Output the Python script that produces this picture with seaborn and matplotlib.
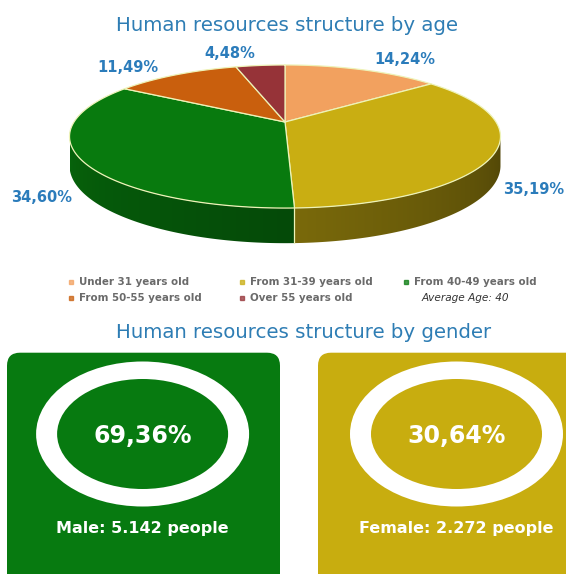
import numpy as np
import matplotlib
matplotlib.use("Agg")
import matplotlib.pyplot as plt
from matplotlib.patches import Polygon, Ellipse, FancyBboxPatch
import seaborn as sns

# ---------------- data ----------------
age_groups = ["Under 31 years old", "From 31-39 years old", "From 40-49 years old",
              "From 50-55 years old", "Over 55 years old"]
age_shares = [14.24, 35.19, 34.60, 11.49, 4.48]
average_age = 40

gender_groups = ["Male", "Female"]
gender_shares = [69.36, 30.64]
gender_people = [5142, 2272]

age_hex = ["#F2A15F", "#C9AE12", "#087A0E", "#C95F0D", "#963338"]
gender_hex = ["#077A10", "#C8AD0F"]

# ---------------- style ----------------
sns.set_theme(style="white")
plt.rcParams["font.family"] = ["DejaVu Sans"]
age_colors = sns.color_palette(age_hex)
gender_colors = sns.color_palette(gender_hex)

TITLE_BLUE = "#2E7DB4"
LABEL_BLUE = "#2B7CBB"
EDGE = "#EEF3B8"
W, HGT = 566, 574

fig = plt.figure(figsize=(W / 100, HGT / 100), dpi=100)
ax = fig.add_axes([0, 0, 1, 1])
ax.axis("off")


def pct(v):
    return f"{v:.2f}".replace(".", ",") + "%"


# ---------------- 3D pie (perspective disc) ----------------
CX, CY = 285.0, 122.0      # projected centre of the top face
R, RK = 211.0, 68.6        # horizontal radius, vertical (tilted) radius
D = 4.93                   # perspective distance
H = 28.0                   # thickness of the disc


def project(theta, r=1.0, drop=0.0):
    theta = np.asarray(theta, dtype=float)
    u = r * np.sin(theta)
    v = r * np.cos(theta)
    s = D / (D + v)
    return CX + R * u * s, CY - RK * v * s + drop * s


total = float(np.sum(age_shares))
bounds = 2 * np.pi * np.concatenate([[0.0], np.cumsum(age_shares)]) / total

th_lo = np.arccos(-1.0 / D)
th_hi = 2 * np.pi - th_lo

# map every screen column of the wall back to its angle, for shading
t_dense = np.linspace(th_lo, th_hi, 2000)
x_dense, _ = project(t_dense)
x_left, x_right = x_dense.min(), x_dense.max()
cols_x = np.linspace(x_left, x_right, 600)
cols_t = np.interp(cols_x, x_dense[::-1], t_dense[::-1])
shade = 0.40 + 0.42 * (cols_t - th_lo) / (th_hi - th_lo)
wall_top = CY - 10
wall_bot = CY + 140

for i, col in enumerate(age_colors):
    a, b = max(bounds[i], th_lo), min(bounds[i + 1], th_hi)
    if b <= a:
        continue
    ts = np.linspace(a, b, 200)
    tx, ty = project(ts)
    bx, by = project(ts[::-1], drop=H)
    poly = Polygon(np.column_stack([np.r_[tx, bx], np.r_[ty, by]]), closed=True,
                   fc="none", ec="none")
    ax.add_patch(poly)
    grad = np.clip(np.array(col)[None, None, :] * shade[None, :, None], 0, 1)
    im = ax.imshow(grad, extent=[x_left, x_right, wall_bot, wall_top],
                   aspect="auto", interpolation="bilinear", zorder=1)
    im.set_clip_path(poly)

# seam lines between neighbouring slices on the wall
for bnd in bounds:
    if th_lo < bnd < th_hi:
        x0, y0 = project(bnd)
        x1, y1 = project(bnd, drop=H)
        ax.plot([x0, x1], [y0, y1], color=EDGE, lw=0.9, zorder=2)

# top faces
for i, col in enumerate(age_colors):
    ts = np.linspace(bounds[i], bounds[i + 1], 200)
    px, py = project(ts)
    pts = np.vstack([[CX, CY], np.column_stack([px, py])])
    ax.add_patch(Polygon(pts, closed=True, fc=col, ec=EDGE, lw=0.9,
                         joinstyle="round", zorder=3))

# percentage labels
label_pos = [(405, 60), (534, 189), (42, 198), (128, 67), (230, 54)]
for v, (lx, ly) in zip(age_shares, label_pos):
    ax.text(lx, ly, pct(v), color=LABEL_BLUE, fontsize=10.5, fontweight="bold",
            ha="center", va="center", zorder=4)

# title
ax.text(287, 31, "Human resources structure by age", color=TITLE_BLUE,
        fontsize=14.2, ha="center", va="baseline")

# legend
col_x = [71, 242, 406]
row_y = [282, 298]
for k, (name, col) in enumerate(zip(age_groups, age_colors)):
    x, y = col_x[k % 3], row_y[k // 3]
    ax.plot(x, y, marker="s", ms=2.2, color=col, mec=col, alpha=0.75)
    ax.text(x + 8, y, name, color="#6A6A6A", fontsize=7.4, fontweight="bold",
            ha="left", va="center")
ax.text(col_x[2] + 16, row_y[1], f"Average Age: {average_age}", color="#333333",
        fontsize=7.6, style="italic", ha="left", va="center")

# ---------------- gender cards ----------------
ax.text(304, 338, "Human resources structure by gender", color=TITLE_BLUE,
        fontsize=14.2, ha="center", va="baseline")

card_x = [7, 318]
card_w = 273
card_top = 352.7
ring_cx = [142.6, 456.5]
ring_cy = 434.0
for name, share, people, col, x0, cx in zip(gender_groups, gender_shares, gender_people,
                                            gender_colors, card_x, ring_cx):
    ax.add_patch(FancyBboxPatch((x0, card_top), card_w, 260,
                                boxstyle="round,pad=0,rounding_size=13",
                                fc=col, ec="none"))
    ax.add_patch(Ellipse((cx, ring_cy), 213, 145, fc="white", ec="none"))
    ax.add_patch(Ellipse((cx, ring_cy), 171, 110, fc=col, ec="none"))
    ax.text(cx, ring_cy + 2, pct(share), color="white", fontsize=17,
            fontweight="bold", ha="center", va="center")
    people_txt = f"{people:,}".replace(",", ".")
    ax.text(cx, 533, f"{name}: {people_txt} people", color="white", fontsize=11.5,
            fontweight="bold", ha="center", va="baseline")

ax.set_xlim(0, W)
ax.set_ylim(HGT, 0)
fig.savefig("out.png", dpi=100, facecolor="white")
